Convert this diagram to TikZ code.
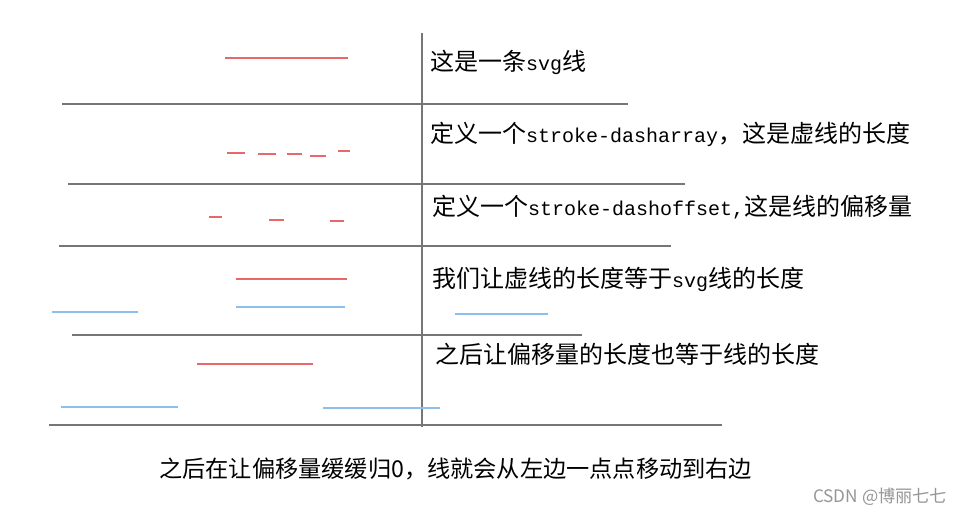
\documentclass[tikz,border=0pt]{standalone}
\usepackage{fontspec}
\setmainfont{Noto Sans CJK SC}
\newfontfamily\cjkfont{Noto Sans CJK SC}
\newfontfamily\latmono{Liberation Mono}
\newcommand{\lat}[1]{{\latmono\fontsize{20}{20}\selectfont #1}}
\definecolor{rulegray}{RGB}{118,118,118}
\definecolor{linered}{RGB}{232,104,106}
\definecolor{lineblue}{RGB}{140,190,238}
\definecolor{wmgray}{RGB}{150,150,150}
\begin{document}
\begin{tikzpicture}[x=1pt,y=-1pt,
  rule/.style={draw=rulegray,line width=2pt},
  redline/.style={draw=linered,line width=2pt},
  blueline/.style={draw=lineblue,line width=2pt},
  lbl/.style={anchor=base west,inner sep=0pt,font=\cjkfont\fontsize{24}{24}\selectfont},
  wm/.style={anchor=base west,inner sep=0pt,text=wmgray,font=\cjkfont\fontsize{17.2}{17.2}\selectfont}]
\useasboundingbox (0,0) rectangle (963,514);
\fill[white] (0,0) rectangle (963,514);
% grid lines
\draw[rule] (422,33) -- (422,427);
\draw[rule] (62,104) -- (628,104);
\draw[rule] (68,184) -- (685,184);
\draw[rule] (59,246) -- (671,246);
\draw[rule] (72,335) -- (582,335);
\draw[rule] (49,425) -- (722,425);
% row 1
\draw[redline] (225,58) -- (348,58);
% row 2 dasharray
\draw[redline] (227,153) -- (245,153);
\draw[redline] (258,154) -- (276,154);
\draw[redline] (287,154) -- (302,154);
\draw[redline] (310,156) -- (326,156);
\draw[redline] (338,151) -- (350,151);
% row 3 dashoffset
\draw[redline] (209,217) -- (222,217);
\draw[redline] (269,220) -- (284,220);
\draw[redline] (330,221) -- (344,221);
% row 4
\draw[redline] (236,279) -- (347,279);
\draw[blueline] (236,307) -- (345,307);
\draw[blueline] (52,312) -- (138,312);
\draw[blueline] (455,314) -- (548,314);
% row 5
\draw[redline] (197,364) -- (313,364);
\draw[blueline] (61,407) -- (178,407);
\draw[blueline] (323,408) -- (440,408);
% texts
\node[lbl] (t1) at (430,70) {这是一条\lat{svg}线};
\node[lbl] (t2) at (430,142) {定义一个\lat{stroke-dasharray}，这是虚线的长度};
\node[lbl] (t3) at (432,215) {定义一个\lat{stroke-dashoffset,}这是线的偏移量};
\node[lbl] (t4) at (432,287) {我们让虚线的长度等于\lat{svg}线的长度};
\node[lbl] (t5) at (435,363) {之后让偏移量的长度也等于线的长度};
\node[lbl,font=\cjkfont\fontsize{23.2}{23.2}\selectfont] (t6) at (159,477) {之后在让偏移量缓缓归0，线就会从左边一点点移动到右边};
\node[wm] (wm) at (813,502) {CSDN @博丽七七};
\end{tikzpicture}
\end{document}
